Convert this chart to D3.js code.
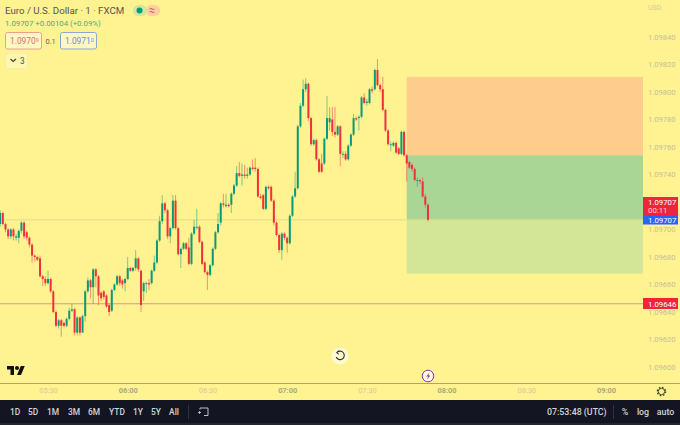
<!DOCTYPE html>
<html>
<head>
<meta charset="utf-8">
<script src="https://cdn.jsdelivr.net/npm/d3@7/dist/d3.min.js"></script>
<style>
  html, body { margin: 0; padding: 0; background: #fff291; }
  svg { display: block; font-family: Roboto, sans-serif; }
</style>
</head>
<body>
<svg id="chart" width="680" height="425"></svg>
<script>
// EUR/USD one-minute candles, stored as points above 1.09000.
const opens = [
  704,712,704,700,695,700,694,694,699,705,
  698,694,689,681,680,679,666,664,661,664,
  655,640,630,634,632,630,635,641,642,625,
  636,625,637,655,663,658,671,666,654,655,
  652,645,641,656,660,666,663,661,664,672,
  670,672,679,670,655,661,661,661,670,676,
  692,706,719,714,695,701,721,701,682,686,
  690,687,675,697,702,702,691,676,669,667,
  674,686,698,705,719,717,718,718,726,732,
  741,739,740,739,740,745,745,744,724,725,
  715,731,731,721,705,696,685,697,694,690,
  710,724,730,775,790,802,806,781,762,765,
  751,748,748,766,778,780,771,769,775,755,
  755,751,761,769,781,781,782,796,792,792,
  802,802,816,805,802,787,772,762,761,763,
  759,755,771,754,749,747,744,736,736,735,724,718
];
const closes = [
  712,704,700,695,700,695,695,699,705,695,
  694,689,681,680,678,666,664,661,664,655,
  640,630,634,630,630,635,641,642,625,636,
  625,637,655,663,658,671,666,652,650,651,
  644,640,656,660,666,661,660,664,672,670,
  672,679,671,645,661,661,660,670,676,692,
  706,719,714,695,701,721,701,682,686,690,
  686,675,697,702,702,691,675,669,667,674,
  686,698,704,719,718,718,717,726,732,741,
  739,740,739,740,745,744,744,724,723,715,
  731,730,721,705,696,685,697,694,690,710,
  724,730,775,790,802,806,781,762,765,751,
  742,742,766,781,781,771,769,775,755,755,
  751,761,769,781,780,782,796,792,793,802,
  801,816,805,802,787,772,762,762,763,756,
  755,771,754,748,745,744,736,736,735,724,718,707
];
const highs = [
  714,713,705,701,701,701,697,700,706,706,
  699,695,690,682,681,681,667,666,670,665,
  656,641,635,635,633,636,643,646,643,637,
  637,638,656,665,664,672,672,667,655,656,
  653,646,657,661,667,667,664,665,680,673,
  673,685,680,671,662,662,664,671,681,693,
  710,725,720,715,702,725,725,702,687,691,
  691,694,698,707,715,703,692,677,670,675,
  687,699,712,720,726,726,719,727,733,746,
  749,748,747,745,746,751,752,745,726,726,
  732,732,732,722,706,697,698,698,695,711,
  725,742,776,792,809,810,807,782,766,766,
  752,755,767,797,789,789,789,776,776,757,
  757,762,770,784,782,783,797,799,795,803,
  804,817,824,806,811,788,773,764,764,764,
  760,772,772,755,750,748,745,738,737,738,726,719
];
const lows = [
  702,703,698,693,693,692,692,690,697,693,
  692,687,676,677,677,665,659,659,660,654,
  639,629,628,622,629,629,634,640,623,623,
  623,625,633,654,650,646,658,645,648,649,
  643,637,640,655,659,659,657,655,663,669,
  669,670,669,640,648,654,656,660,669,675,
  691,704,712,693,690,700,700,681,672,685,
  685,674,674,696,700,690,674,668,656,666,
  673,685,697,703,716,716,716,712,725,731,
  738,732,737,737,739,743,742,723,722,714,
  714,729,720,703,695,683,678,692,683,689,
  709,723,729,774,789,800,779,761,761,750,
  741,741,747,765,772,768,767,768,746,752,
  750,750,760,768,779,772,781,791,790,791,
  799,801,804,800,786,771,761,757,760,755,
  754,754,753,735,744,742,735,731,733,723,716,706
];

// Long-position tool levels, in points above 1.09000.
const riskRewardTop = 811;
const riskRewardMid = 754;
const riskRewardEntry = 707;
const riskRewardBottom = 668;

const lastPrice = 707;
const supportLevel = 646;
const priceTicks = [600,620,640,660,680,700,720,740,760,780,800,820,840];
const rangeButtons = ["1D","5D","1M","3M","6M","YTD","1Y","5Y","All"];
const rangeButtonCenters = [15,33,53,74,94,117,138,156,174];

const W = 680, H = 425, plotRight = 643, axisY = 383, barY = 400;
const BG = "#fff291", UP = "#089a7c", DOWN = "#f0303f";
const utc = (h, m) => new Date(Date.UTC(2023, 0, 10, h, m));
const toPrice = p => 1.09 + p / 1e5;

const x = d3.scaleUtc().domain([utc(5, 30), utc(9, 0)]).range([48, 606]);
const y = d3.scaleLinear().domain([1.096, 1.098]).range([367, 92]);
const plotEnd = x.invert(plotRight);
const firstBar = utc(5, 12);
const candles = opens.map((o, i) => ({
  t: d3.utcMinute.offset(firstBar, i),
  o: toPrice(o), h: toPrice(highs[i]), l: toPrice(lows[i]), c: toPrice(closes[i])
}));

const svg = d3.select("#chart");
svg.append("rect").attr("width", W).attr("height", H).attr("fill", BG);

// Risk/reward zones
const zoneStart = utc(7, 45);
const zones = [
  [riskRewardTop, riskRewardMid, "#ffcd8b"],
  [riskRewardMid, riskRewardEntry, "#a9d695"],
  [riskRewardEntry, riskRewardBottom, "#d3e697"]
];
svg.append("g").selectAll("rect").data(zones).join("rect")
  .attr("x", x(zoneStart))
  .attr("width", x(plotEnd) - x(zoneStart))
  .attr("y", d => y(toPrice(d[0])))
  .attr("height", d => y(toPrice(d[1])) - y(toPrice(d[0])))
  .attr("fill", d => d[2]);

// Horizontal price lines
svg.append("line").attr("x1", 0).attr("x2", plotRight)
  .attr("y1", y(toPrice(lastPrice))).attr("y2", y(toPrice(lastPrice)))
  .attr("stroke", "#e4da86").attr("stroke-width", 1);
svg.append("line").attr("x1", 0).attr("x2", plotRight)
  .attr("y1", y(toPrice(supportLevel))).attr("y2", y(toPrice(supportLevel)))
  .attr("stroke", "#d49c80").attr("stroke-width", 1);

// Candles
const colorOf = d => d.c >= d.o ? UP : DOWN;
const candleG = svg.append("g").selectAll("g").data(candles).join("g");
candleG.append("line")
  .attr("x1", d => x(d.t)).attr("x2", d => x(d.t))
  .attr("y1", d => y(d.h)).attr("y2", d => y(d.l))
  .attr("stroke", colorOf).attr("stroke-width", 1).attr("stroke-opacity", 0.5);
candleG.append("rect")
  .attr("x", d => x(d.t) - 1).attr("width", 2)
  .attr("y", d => y(Math.max(d.o, d.c)))
  .attr("height", d => Math.max(1, Math.abs(y(d.o) - y(d.c))))
  .attr("fill", colorOf);

// Price axis
const yAxis = d3.axisRight(y)
  .tickValues(priceTicks.map(toPrice))
  .tickFormat(d3.format(".5f")).tickSize(0).tickPadding(5);
const yG = svg.append("g").attr("transform", `translate(${plotRight},0)`).call(yAxis);
yG.select(".domain").remove();
yG.selectAll("text").attr("fill", "#c4c09a").attr("font-size", 7.6).attr("font-family", "Roboto");
svg.append("text").attr("x", 648).attr("y", 10).attr("font-size", 7)
  .attr("fill", "#cfcaa0").text("USD");

// Time axis
const xAxis = d3.axisBottom(x)
  .tickValues(d3.utcMinute.every(30).range(utc(5, 30), utc(9, 1)))
  .tickFormat(d3.utcFormat("%H:%M")).tickSize(0).tickPadding(5);
const xG = svg.append("g").attr("transform", `translate(0,${axisY})`).call(xAxis);
xG.select(".domain").attr("stroke", "#b0a65e").attr("d", `M0,0.5H${W}`);
xG.selectAll("text")
  .attr("font-family", "Roboto").attr("font-size", 7.4)
  .attr("fill", d => d.getUTCMinutes() === 0 ? "#aca77f" : "#cfcb9e")
  .attr("font-weight", d => d.getUTCMinutes() === 0 ? 700 : 400);

// Price flags on the axis
const flag = (top, h, fill, lines) => {
  svg.append("rect").attr("x", plotRight).attr("y", top).attr("width", 35).attr("height", h).attr("fill", fill);
  lines.forEach(([text, baseline, opacity]) => {
    svg.append("text").attr("x", plotRight + 5).attr("y", baseline).attr("font-size", 7.8)
      .attr("fill", "#fff").attr("fill-opacity", opacity).text(text);
  });
};
flag(197, 19, "#f2243c", [["1.09707", 204.5, 1], ["00:11", 213, 0.8]]);
flag(215.5, 9, "#2962ff", [["1.09707", 223, 1]]);
flag(298, 11, "#f2243c", [["1.09646", 306.5, 1]]);

// Header: instrument title and quote
svg.append("text").attr("x", 5).attr("y", 13.5).attr("font-size", 9.7)
  .attr("fill", "#57554a").text("Euro / U.S. Dollar · 1 · FXCM");
svg.append("text").attr("x", 5).attr("y", 26).attr("font-size", 7.8)
  .attr("fill", "#3fae7c").text("1.09707  +0.00104 (+0.09%)");
svg.append("rect").attr("x", 133).attr("y", 5).attr("width", 14).attr("height", 11).attr("rx", 5.5).attr("fill", "#d4e69a");
svg.append("rect").attr("x", 146).attr("y", 5).attr("width", 14).attr("height", 11).attr("rx", 5.5).attr("fill", "#fbd0a0");
svg.append("circle").attr("cx", 139.5).attr("cy", 10.5).attr("r", 3).attr("fill", "#089a7c");
svg.append("path").attr("d", "M149.5 9q1.2-1 2.5 0t2.5 0M149.5 12q1.2-1 2.5 0t2.5 0")
  .attr("fill", "none").attr("stroke", "#e2405a").attr("stroke-width", 1);

const quoteBox = (bx, color, border, main, sup) => {
  svg.append("rect").attr("x", bx + 0.5).attr("y", 32.5).attr("width", 36).attr("height", 16.5).attr("rx", 2)
    .attr("fill", "#fff8c0").attr("stroke", border).attr("stroke-width", 1);
  const t = svg.append("text").attr("x", bx + 5).attr("y", 43.5).attr("font-size", 8.4).attr("fill", color);
  t.append("tspan").text(main);
  t.append("tspan").attr("font-size", 5.5).attr("dy", -1.5).text(sup);
};
quoteBox(5, "#e06a85", "#e8a093", "1.0970", "9");
quoteBox(60, "#6a8fe0", "#8ba6d0", "1.0971", "0");
svg.append("text").attr("x", 45.5).attr("y", 43.5).attr("font-size", 7.4).attr("fill", "#66634f").text("0.1");

svg.append("rect").attr("x", 5.5).attr("y", 53.5).attr("width", 22).attr("height", 15).attr("rx", 2)
  .attr("fill", "#fff6b0").attr("stroke", "#f5eca6");
svg.append("path").attr("d", "M10.5 59l2.7 2.5 2.7-2.5").attr("fill", "none").attr("stroke", "#3c3a30").attr("stroke-width", 1.1);
svg.append("text").attr("x", 20).attr("y", 64).attr("font-size", 8.2).attr("fill", "#4d4b3e").text("3");

// Chart furniture: logo, reset button, event marker, settings gear
svg.append("path").attr("transform", "translate(7,364) scale(0.5)")
  .attr("d", "M14 22H7V11H0V4h14v18zM28 22h-8l7.5-18h8L28 22z").attr("fill", "#101010");
svg.append("circle").attr("cx", 17).attr("cy", 368).attr("r", 2).attr("fill", "#101010");

svg.append("circle").attr("cx", 340).attr("cy", 356).attr("r", 8.5).attr("fill", "#fff9d2");
svg.append("path").attr("d", "M337 352.500a4.2 4.2 0 1 1 -0.8 4.5").attr("fill", "none").attr("stroke", "#333").attr("stroke-width", 1.1);
svg.append("path").attr("d", "M339 350.500l-2.5 2.2 2.5 1.6").attr("fill", "none").attr("stroke", "#333").attr("stroke-width", 1);

svg.append("circle").attr("cx", 428).attr("cy", 376).attr("r", 5.8).attr("fill", "#fffbe0").attr("stroke", "#8e35b5").attr("stroke-width", 1);
svg.append("path").attr("d", "M429.500 372.500l-3.3 4h2l-1.2 3 3.3-4h-2z").attr("fill", "#8e35b5");

svg.append("circle").attr("cx", 661.5).attr("cy", 391.5).attr("r", 3.2).attr("fill", "none").attr("stroke", "#45422c").attr("stroke-width", 1);
svg.append("circle").attr("cx", 661.5).attr("cy", 391.5).attr("r", 4.2).attr("fill", "none").attr("stroke", "#45422c")
  .attr("stroke-width", 1.2).attr("stroke-dasharray", "1.6 1.7");

// Bottom toolbar
svg.append("rect").attr("y", barY).attr("width", W).attr("height", H - barY).attr("fill", "#131622");
svg.append("rect").attr("y", 423).attr("width", W).attr("height", 2).attr("fill", "#23262f");
const barText = "#d3d4d8";
svg.append("g").selectAll("text").data(rangeButtons).join("text")
  .attr("x", (d, i) => rangeButtonCenters[i]).attr("y", 414.5)
  .attr("text-anchor", "middle").attr("font-size", 8.4).attr("font-weight", 500)
  .attr("fill", barText).text(d => d);
[188.5, 613.5].forEach(px => svg.append("line").attr("x1", px).attr("x2", px).attr("y1", 405).attr("y2", 419)
  .attr("stroke", "#2f323c"));
svg.append("path").attr("d", "M200 408h8v7.5h-4M200 408v1.5M201 412.5h-2.5l1.5-1.2M198.500 412.5l1.5 1.2")
  .attr("fill", "none").attr("stroke", barText).attr("stroke-width", 0.9);
svg.append("text").attr("x", 547).attr("y", 414.5).attr("font-size", 8.8).attr("font-weight", 500)
  .attr("fill", barText).text("07:53:48 (UTC)");
[["%", 625], ["log", 643], ["auto", 665.500]].forEach(([label, cx]) =>
  svg.append("text").attr("x", cx).attr("y", 414.5).attr("text-anchor", "middle")
    .attr("font-size", 8.8).attr("font-weight", 500).attr("fill", barText).text(label));
</script>
</body>
</html>
